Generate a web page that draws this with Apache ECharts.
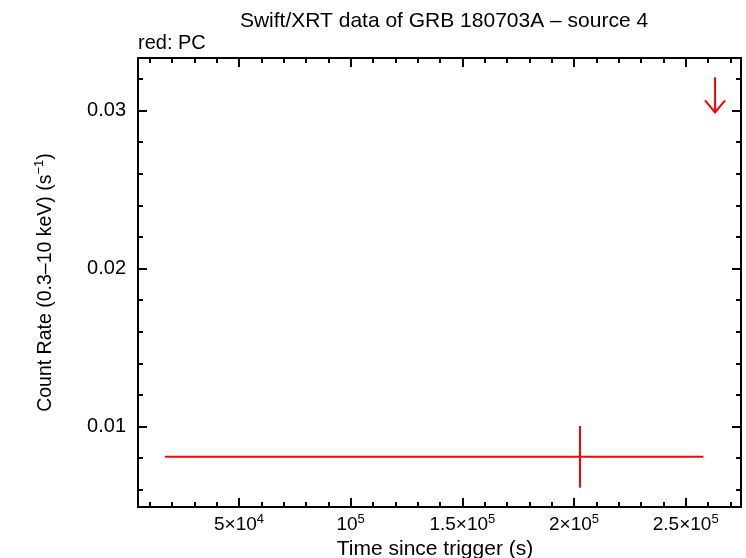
<!DOCTYPE html>
<html>
<head>
<meta charset="utf-8">
<script src="https://cdn.jsdelivr.net/npm/echarts@6/dist/echarts.min.js"></script>
<style>
html,body{margin:0;padding:0;background:#fff;}
#chart{width:746px;height:558px;}
</style>
</head>
<body>
<div id="chart"></div>
<script>
// ---- data ----
var titleText = 'Swift/XRT data of GRB 180703A \u2013 source 4';
var subtitleText = 'red: PC';
var xName = 'Time since trigger (s)';
var yNameMain = 'Count Rate (0.3\u201310 keV) (s';
var yNameSup = '\u22121';
var yNameEnd = ')';

var xRange = [4790, 274770];
var yRange = [0.004905, 0.033323];

var xMajorTicks = [50000, 100000, 150000, 200000, 250000];
var xTickMantissa = ['5\u00d710', '10', '1.5\u00d710', '2\u00d710', '2.5\u00d710'];
var xTickExponent = ['4', '5', '5', '5', '5'];
var xMinorTicks = [10000, 20000, 30000, 40000, 60000, 70000, 80000, 90000,
  110000, 120000, 130000, 140000, 160000, 170000, 180000, 190000,
  210000, 220000, 230000, 240000, 260000, 270000];

var yMajorTicks = [0.01, 0.02, 0.03];
var yTickLabels = ['0.01', '0.02', '0.03'];
var yMinorTicks = [0.006, 0.008, 0.012, 0.014, 0.016, 0.018, 0.022, 0.024, 0.026, 0.028, 0.032];

// PC detection: [time, rate, timeLo, timeHi, rateLo, rateHi]
var pcTime = [202690];
var pcRate = [0.008089];
var pcTimeLo = [16880];
var pcTimeHi = [257890];
var pcRateLo = [0.006127];
var pcRateHi = [0.01003];

// PC upper limit: [time, limit]
var ulTime = [263150];
var ulRate = [0.0321];

// ---- chart ----
var FONT = '"Liberation Sans", Arial, Helvetica, sans-serif';
var RED = '#ff0000';

var pcData = pcTime.map(function (t, i) {
  return [t, pcRate[i], pcTimeLo[i], pcTimeHi[i], pcRateLo[i], pcRateHi[i]];
});
var ulData = ulTime.map(function (t, i) { return [t, ulRate[i]]; });

function xLabelFmt(v) {
  for (var i = 0; i < xMajorTicks.length; i++) {
    if (Math.abs(xMajorTicks[i] - v) < 1) {
      return '{b|' + xTickMantissa[i] + '}{s|' + xTickExponent[i] + '}';
    }
  }
  return '';
}
function yLabelFmt(v) {
  for (var i = 0; i < yMajorTicks.length; i++) {
    if (Math.abs(yMajorTicks[i] - v) < 1e-9) return yTickLabels[i];
  }
  return '';
}

function xAxisDef(pos, major, showLine, showLabel) {
  return {
    type: 'value', position: pos, min: xRange[0], max: xRange[1],
    splitLine: {show: false},
    axisLine: {show: showLine, onZero: false, lineStyle: {color: '#000', width: 2}},
    axisTick: {show: true, inside: true, length: major ? 9 : 5,
      customValues: major ? xMajorTicks : xMinorTicks,
      lineStyle: {color: '#000', width: 2}},
    axisLabel: {show: showLabel, customValues: xMajorTicks, margin: 6,
      formatter: xLabelFmt,
      rich: {
        b: {fontFamily: FONT, fontSize: 19, color: '#000', lineHeight: 21, verticalAlign: 'bottom'},
        s: {fontFamily: FONT, fontSize: 13, color: '#000', lineHeight: 13, verticalAlign: 'top'}
      }},
    name: showLabel ? xName : '', nameLocation: 'middle', nameGap: 27,
    nameTextStyle: {fontFamily: FONT, fontSize: 21, color: '#000', padding: [0, 9, 0, 0]}
  };
}
function yAxisDef(pos, major, showLine, showLabel) {
  return {
    type: 'value', position: pos, min: yRange[0], max: yRange[1],
    splitLine: {show: false},
    axisLine: {show: showLine, onZero: false, lineStyle: {color: '#000', width: 2}},
    axisTick: {show: true, inside: true, length: major ? 9 : 5,
      customValues: major ? yMajorTicks : yMinorTicks,
      lineStyle: {color: '#000', width: 2}},
    axisLabel: {show: showLabel, customValues: yMajorTicks, margin: 12,
      formatter: yLabelFmt, fontFamily: FONT, fontSize: 20, color: '#000'},
    name: showLabel ? ('{b|' + yNameMain + '}{s|' + yNameSup + '}{b|' + yNameEnd + '}') : '',
    nameLocation: 'middle', nameGap: 82, nameRotate: 90,
    nameTextStyle: {
      rich: {
        b: {fontFamily: FONT, fontSize: 19.5, color: '#000', lineHeight: 23, verticalAlign: 'bottom'},
        s: {fontFamily: FONT, fontSize: 13, color: '#000', lineHeight: 13, verticalAlign: 'top'}
      }
    }
  };
}

var chart = echarts.init(document.getElementById('chart'), null, {renderer: 'canvas'});
chart.setOption({
  animation: false,
  backgroundColor: '#fff',
  title: [
    {text: titleText, left: 439, top: 6, textAlign: 'center',
      textStyle: {fontFamily: FONT, fontSize: 21, fontWeight: 'normal', color: '#000'}},
    {text: subtitleText, left: 138, top: 33, padding: 0,
      textStyle: {fontFamily: FONT, fontSize: 20, fontWeight: 'normal', color: '#000'}}
  ],
  grid: {left: 138, right: 5, top: 58, bottom: 51, containLabel: false, outerBoundsMode: 'none'},
  xAxis: [
    xAxisDef('bottom', true, true, true),
    xAxisDef('bottom', false, false, false),
    xAxisDef('top', true, true, false),
    xAxisDef('top', false, false, false)
  ],
  yAxis: [
    yAxisDef('left', true, true, true),
    yAxisDef('left', false, false, false),
    yAxisDef('right', true, true, false),
    yAxisDef('right', false, false, false)
  ],
  series: [
    {
      type: 'custom', xAxisIndex: 0, yAxisIndex: 0, data: pcData,
      encode: {x: [0, 2, 3], y: [1, 4, 5]},
      renderItem: function (params, api) {
        var x = api.value(0), y = api.value(1);
        var l = api.coord([api.value(2), y]), r = api.coord([api.value(3), y]);
        var t = api.coord([x, api.value(5)]), b = api.coord([x, api.value(4)]);
        var st = {stroke: RED, lineWidth: 2};
        return {type: 'group', children: [
          {type: 'line', shape: {x1: l[0], y1: l[1], x2: r[0], y2: r[1]}, style: st},
          {type: 'line', shape: {x1: t[0], y1: t[1], x2: b[0], y2: b[1]}, style: st}
        ]};
      }
    },
    {
      type: 'custom', xAxisIndex: 0, yAxisIndex: 0, data: ulData,
      encode: {x: 0, y: 1},
      renderItem: function (params, api) {
        var p = api.coord([api.value(0), api.value(1)]);
        var len = 35, head = 12, hw = 10;
        var st = {stroke: RED, lineWidth: 2, fill: null};
        return {type: 'group', children: [
          {type: 'line', shape: {x1: p[0], y1: p[1], x2: p[0], y2: p[1] + len}, style: st},
          {type: 'polyline', shape: {points: [[p[0] - hw, p[1] + len - head], [p[0], p[1] + len], [p[0] + hw, p[1] + len - head]]}, style: st}
        ]};
      }
    }
  ]
});
</script>
</body>
</html>
